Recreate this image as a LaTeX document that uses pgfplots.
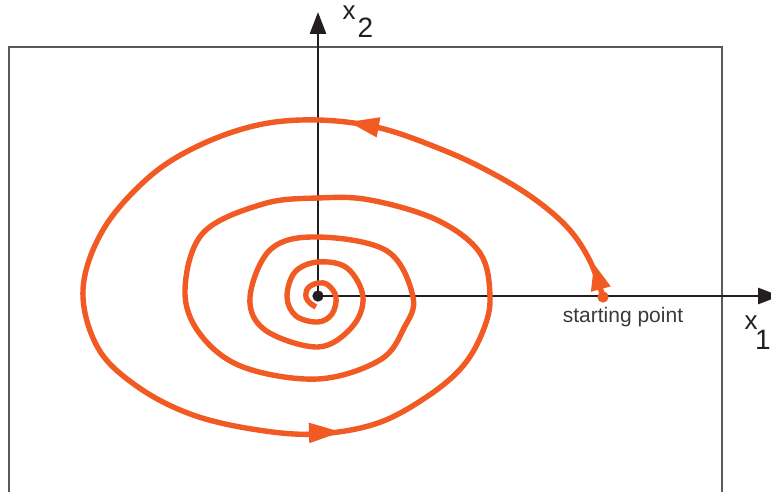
\documentclass[border=0pt]{standalone}
\usepackage{pgfplots}
\pgfplotsset{compat=1.18}
\usepackage{fontspec}
\setmainfont{Liberation Sans}
\usetikzlibrary{arrows.meta}
\definecolor{spir}{HTML}{F15A22}
\definecolor{axc}{HTML}{231F20}
\definecolor{txt}{HTML}{3A3A3A}
\begin{document}
\begin{tikzpicture}
\begin{axis}[
  x=0.5pt, y=0.5pt,
  xmin=-318, xmax=453, ymin=-196, ymax=296,
  hide axis, clip mode=individual,
]
% frame
\addplot[color=black!65, line width=0.6pt] coordinates {(-309,-230) (-309,249) (404,249) (404,-230)};
% coordinate axes
\addplot[color=axc, line width=1.4pt, -{Triangle[length=11pt,width=8pt]}] coordinates {(0,0) (0,284)};
\addplot[color=axc, line width=1.4pt, -{Triangle[length=11pt,width=8pt]}] coordinates {(0,0) (462,0)};
% spiral
\addplot[color=spir, line width=2.7pt, smooth, tension=0.6] coordinates {
(285,-1) (272,35) (250,68) (215,98) (172,124) (125,146) (62,168) (0,176)
(-60,171) (-120,150) (-170,118) (-215,66) (-235,6) (-220,-52) (-180,-91)
(-125,-119) (-60,-134) (0,-138) (60,-127) (110,-100) (145,-70) (165,-35)
(172,-1) (162,43) (119,76) (52,96) (0,98) (-55,92) (-115,63) (-133,6)
(-118,-38) (-75,-71) (0,-83) (62,-64) (86,-32)
(95,-1) (69,45) (0,59) (-47,47) (-68,-1) (-53,-34) (0,-51) (34,-31)
(45,-1) (29,28) (0,34) (-23,24) (-31,-1) (-22,-20) (0,-26) (14,-18)
(18,-1) (10,11) (0,13) (-10,8) (-12,-1) (-8,-7) (-2,-11)
};
% direction arrows
\addplot[color=spir, line width=1pt, -{Triangle[length=15pt,width=10pt]}] coordinates {(64,168) (31,174)};
\addplot[color=spir, line width=1pt, -{Triangle[length=16pt,width=10pt]}] coordinates {(-12,-137) (23,-136)};
\addplot[color=spir, line width=1pt, -{Triangle[length=13pt,width=10pt]}] coordinates {(285,-1) (276,32)};
% dots
\addplot[only marks, mark=*, mark size=2.6pt, color=axc] coordinates {(0,0)};
\addplot[only marks, mark=*, mark size=2.6pt, color=spir] coordinates {(285,-1)};
% labels
\node[text=txt, font=\fontsize{10.5}{12}\selectfont, inner sep=0pt] at (axis cs:305,-21) {starting point};
\node[text=axc, font=\fontsize{13}{14}\selectfont, inner sep=0pt] at (axis cs:31,283) {x};
\node[text=axc, font=\fontsize{14}{16}\selectfont, inner sep=0pt] at (axis cs:47.5,268) {2};
\node[text=axc, font=\fontsize{13}{14}\selectfont, inner sep=0pt] at (axis cs:433,-27) {x};
\node[text=axc, font=\fontsize{14}{16}\selectfont, inner sep=0pt] at (axis cs:445,-44) {1};
\end{axis}
\pgfresetboundingbox
\path (current axis.south west) rectangle (current axis.north east);
\end{tikzpicture}
\end{document}
